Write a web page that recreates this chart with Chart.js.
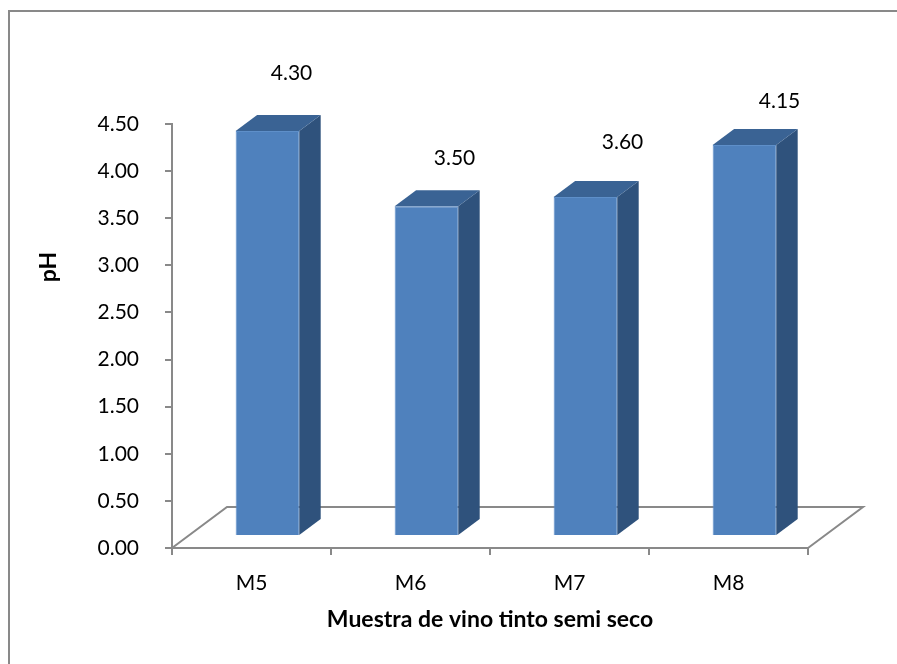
<!DOCTYPE html>
<html>
<head>
<meta charset="utf-8">
<script src="https://cdn.jsdelivr.net/npm/chart.js@4.4.1/dist/chart.umd.min.js"></script>
<style>
  html, body { margin: 0; padding: 0; background: #fff; overflow: hidden; }
  canvas { display: block; }
</style>
</head>
<body>
<canvas id="grafico" width="897" height="664"></canvas>
<script>
// Datos
const muestras = ['M5', 'M6', 'M7', 'M8'];
const valoresPH = [4.30, 3.50, 3.60, 4.15];
const ejeMin = 0;
const ejeMax = 4.5;
const ejePaso = 0.5;

// corrimiento de cada etiqueta de valor respecto a la barra (px)
const ajusteEtiquetas = [[40, -70], [44, -60], [53, -67], [51, -56]];

const azulFrente = '#4F81BD';
const azulLado = '#2F527C';
const azulTapa = '#3A6394';
const gris = '#898989';
const fuente = 'Lato, "Open Sans", sans-serif';

// profundidad del piso y posicion de las barras dentro de ella
const fondo = { dx: 55, dy: -41 };
const barraIni = 0.29;
const barraFin = 0.68;

const efecto3D = {
  id: 'efecto3D',
  beforeDraw(chart) {
    const ctx = chart.ctx;
    ctx.save();
    ctx.fillStyle = '#fff';
    ctx.fillRect(0, 0, chart.width, chart.height);
    // marco exterior (solo se ven los lados superior e izquierdo)
    ctx.strokeStyle = gris;
    ctx.lineWidth = 2;
    ctx.beginPath();
    ctx.moveTo(9, chart.height + 5);
    ctx.lineTo(9, 11);
    ctx.lineTo(chart.width + 5, 11);
    ctx.stroke();
    ctx.restore();
  },
  beforeDatasetsDraw(chart) {
    // piso
    const ctx = chart.ctx;
    const { left, right, bottom } = chart.chartArea;
    ctx.save();
    ctx.strokeStyle = gris;
    ctx.lineWidth = 2;
    ctx.beginPath();
    ctx.moveTo(left, bottom);
    ctx.lineTo(left + fondo.dx, bottom + fondo.dy);
    ctx.lineTo(right + fondo.dx, bottom + fondo.dy);
    ctx.lineTo(right, bottom);
    ctx.stroke();
    ctx.restore();
  },
  beforeDatasetDraw(chart) {
    chart.ctx.save();
    chart.ctx.translate(fondo.dx * barraIni, fondo.dy * barraIni);
  },
  afterDatasetDraw(chart, args) {
    const ctx = chart.ctx;
    const px = fondo.dx * (barraFin - barraIni);
    const py = fondo.dy * (barraFin - barraIni);
    args.meta.data.forEach(bar => {
      const { x, y, base, width } = bar.getProps(['x', 'y', 'base', 'width'], true);
      const x1 = x - width / 2, x2 = x + width / 2;
      // lado derecho
      ctx.fillStyle = azulLado;
      ctx.beginPath();
      ctx.moveTo(x2, y);
      ctx.lineTo(x2 + px, y + py);
      ctx.lineTo(x2 + px, base + py);
      ctx.lineTo(x2, base);
      ctx.closePath();
      ctx.fill();
      // tapa
      ctx.fillStyle = azulTapa;
      ctx.beginPath();
      ctx.moveTo(x1, y);
      ctx.lineTo(x1 + px, y + py);
      ctx.lineTo(x2 + px, y + py);
      ctx.lineTo(x2, y);
      ctx.closePath();
      ctx.fill();
    });
    ctx.restore();
  },
  afterDatasetsDraw(chart) {
    const ctx = chart.ctx;
    const meta = chart.getDatasetMeta(0);
    ctx.save();
    ctx.fillStyle = '#000';
    ctx.font = '21px ' + fuente;
    ctx.textAlign = 'center';
    ctx.textBaseline = 'middle';
    meta.data.forEach((bar, i) => {
      const [dx, dy] = ajusteEtiquetas[i];
      ctx.fillText(valoresPH[i].toFixed(2), bar.x + dx, bar.y + dy);
    });
    // titulo del eje vertical
    ctx.font = 'bold 23px ' + fuente;
    ctx.translate(49, 267);
    ctx.rotate(-Math.PI / 2);
    ctx.fillText('pH', 0, 0);
    ctx.restore();
  }
};

new Chart(document.getElementById('grafico'), {
  type: 'bar',
  data: {
    labels: muestras,
    datasets: [{
      data: valoresPH,
      backgroundColor: azulFrente,
      borderColor: '#5E8FC9',
      borderWidth: 1,
      barPercentage: 0.4,
      categoryPercentage: 1
    }]
  },
  options: {
    responsive: false,
    animation: false,
    events: [],
    layout: { padding: { left: 0, top: 124, right: 89, bottom: 0 } },
    plugins: {
      legend: { display: false },
      tooltip: { enabled: false }
    },
    scales: {
      x: {
        offset: true,
        grid: { drawOnChartArea: false, tickLength: 7, color: gris, lineWidth: 2, offset: true },
        border: { color: gris, width: 2 },
        ticks: { color: '#000', font: { family: fuente, size: 21 }, padding: 16 },
        title: {
          display: true,
          text: 'Muestra de vino tinto semi seco',
          color: '#000',
          font: { family: fuente, size: 23, weight: 'bold' },
          padding: { top: 0, bottom: 31 }
        },
        afterFit(scale) { scale.height = 116; }
      },
      y: {
        min: ejeMin,
        max: ejeMax,
        grid: { drawOnChartArea: false, tickLength: 7, color: gris, lineWidth: 2 },
        border: { color: gris, width: 2 },
        ticks: {
          stepSize: ejePaso,
          color: '#000',
          font: { family: fuente, size: 21 },
          padding: 26,
          callback: v => v.toFixed(2)
        },
        afterFit(scale) { scale.width = 172; }
      }
    }
  },
  plugins: [efecto3D]
});
</script>
</body>
</html>
